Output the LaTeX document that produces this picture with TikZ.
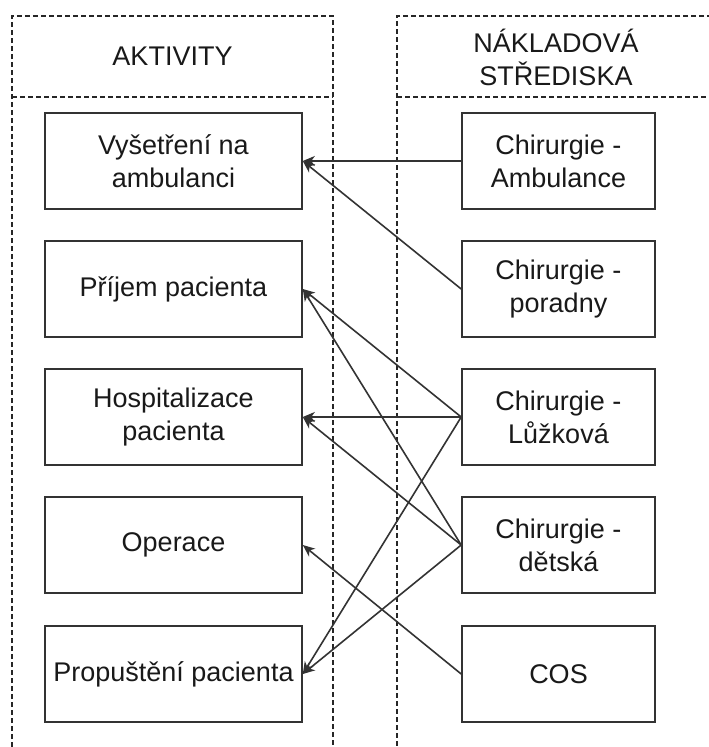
\documentclass[tikz,border=0pt]{standalone}
\usepackage{fontspec}
\setmainfont{Liberation Sans}
\usetikzlibrary{arrows.meta}
\begin{document}
\begin{tikzpicture}[x=1pt,y=-1pt,
  every node/.style={font=\fontsize{27}{33}\selectfont, text=black!90, align=center, inner sep=0pt},
  lane/.style={draw=black!85, line width=1.3pt, dash pattern=on 5pt off 3pt},
  actbox/.style={draw=black!80, line width=1.6pt, fill=white, minimum width=257pt, minimum height=96pt},
  costbox/.style={draw=black!80, line width=1.6pt, fill=white, minimum width=193pt, minimum height=96pt},
  link/.style={draw=black!80, line width=1.6pt, -{Stealth[length=12pt,width=10pt,inset=3.5pt]}}]
\useasboundingbox (0,0) rectangle (709,747);
\fill[white] (0,0) rectangle (709,747);

% swimlanes
\draw[lane] (12,747) -- (12,16) -- (333,16) -- (333,747);
\draw[lane] (12,97) -- (333,97);
\draw[lane] (712,16) -- (397,16) -- (397,747);
\draw[lane] (397,97) -- (712,97);
\node (hdrA) at (172.5,56) {AKTIVITY};
\node (hdrB) at (556,57) {NÁKLADOVÁ\\STŘEDISKA};

% activities
\node[actbox] (vys)  at (173.5,161) {Vyšetření na\\ambulanci};
\node[actbox] (prij) at (173.5,289) {Příjem pacienta};
\node[actbox] (hosp) at (173.5,417) {Hospitalizace\\pacienta};
\node[actbox] (oper) at (173.5,545) {Operace};
\node[actbox] (prop) at (173.5,674) {Propuštění pacienta};

% cost centres
\node[costbox] (amb) at (558.5,161) {Chirurgie -\\Ambulance};
\node[costbox] (por) at (558.5,289) {Chirurgie -\\poradny};
\node[costbox] (luz) at (558.5,417) {Chirurgie -\\Lůžková};
\node[costbox] (det) at (558.5,545) {Chirurgie -\\dětská};
\node[costbox] (cos) at (558.5,674) {COS};

% assignments
\draw[link] (amb.west) -- (vys.east);
\draw[link] (por.west) -- (vys.east);
\draw[link] (luz.west) -- (prij.east);
\draw[link] (det.west) -- (prij.east);
\draw[link] (luz.west) -- (hosp.east);
\draw[link] (det.west) -- (hosp.east);
\draw[link] (cos.west) -- (oper.east);
\draw[link] (luz.west) -- (prop.east);
\draw[link] (det.west) -- (prop.east);
\end{tikzpicture}
\end{document}
